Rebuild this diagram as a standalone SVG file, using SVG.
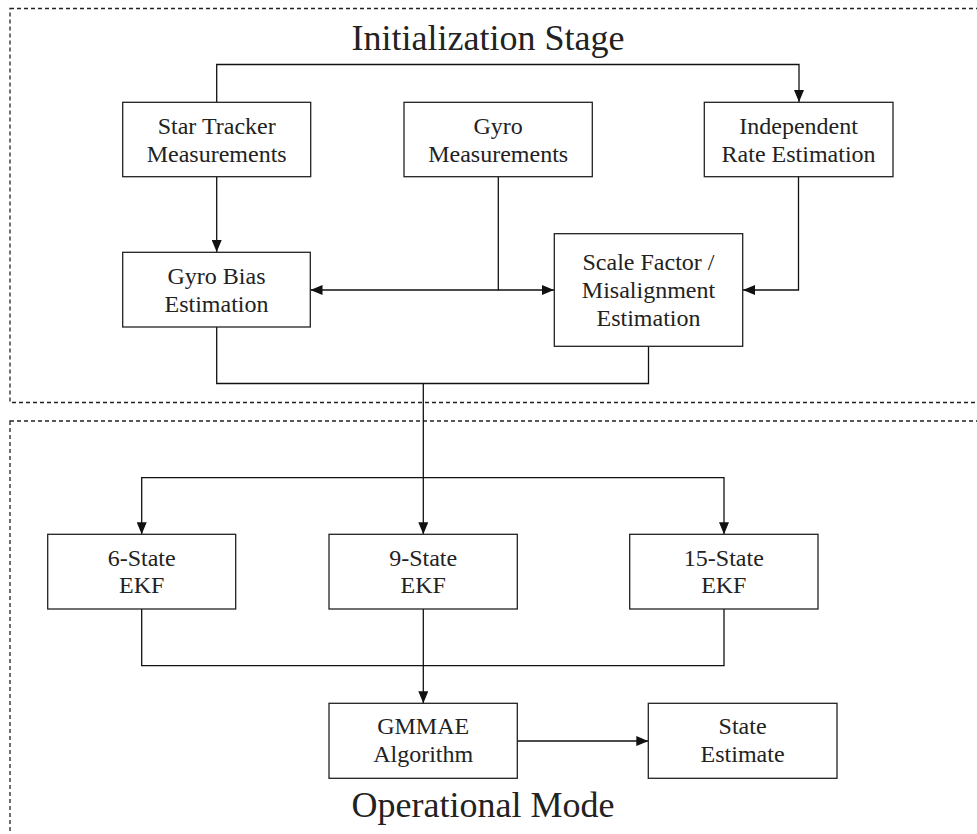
<svg xmlns="http://www.w3.org/2000/svg" width="977" height="834" viewBox="0 0 977 834">
<defs>
<style>
.frame{fill:none;stroke:#222;stroke-width:1.3;stroke-dasharray:4,3}
.box{fill:#fff;stroke:#222;stroke-width:1.3}
.lbl{font-family:"Liberation Serif","Times New Roman",serif;font-size:24px;fill:#222;text-anchor:middle}
.title{font-family:"Liberation Serif","Times New Roman",serif;font-size:36px;fill:#222;text-anchor:middle}
.conn{fill:none;stroke:#111;stroke-width:1.3}
</style>
<marker id="arr" viewBox="0 0 12 10" refX="12" refY="5" markerWidth="12" markerHeight="10" markerUnits="userSpaceOnUse" orient="auto">
<path d="M0,0 L12,5 L0,10 Z" fill="#111"/>
</marker>
</defs>
<rect width="977" height="834" fill="#fff"/>
<rect class="frame" x="10" y="8.5" width="975" height="394"/>
<rect class="frame" x="10" y="421" width="975" height="420"/>
<text class="title" x="488" y="50">Initialization Stage</text>
<text class="title" x="483" y="817">Operational Mode</text>
<g id="connectors">
<path class="conn" d="M216.7,102 V64.5 H799 V102" marker-end="url(#arr)"/>
<path class="conn" d="M216.7,177 V252" marker-end="url(#arr)"/>
<path class="conn" d="M498.3,177 V290 H310.5" marker-end="url(#arr)"/>
<path class="conn" d="M498.3,290 H554" marker-end="url(#arr)"/>
<path class="conn" d="M798.5,177 V290 H743" marker-end="url(#arr)"/>
<path class="conn" d="M216.7,327 V383.5 H648.5 V346.5"/>
<path class="conn" d="M423.3,383.5 V534.3" marker-end="url(#arr)"/>
<path class="conn" d="M423.3,477.7 H141.7 V534.3" marker-end="url(#arr)"/>
<path class="conn" d="M423.3,477.7 H724 V534.3" marker-end="url(#arr)"/>
<path class="conn" d="M141.7,609 V665.7 H724 V609"/>
<path class="conn" d="M423.3,609 V703.3" marker-end="url(#arr)"/>
<path class="conn" d="M517.3,741 H648.3" marker-end="url(#arr)"/>
</g>
<g id="star-tracker">
<rect class="box" x="122.7" y="102.3" width="188" height="74.4"/>
<text class="lbl" x="216.7" y="133.5">Star Tracker</text>
<text class="lbl" x="216.7" y="161.5">Measurements</text>
</g>
<g id="gyro-measurements">
<rect class="box" x="404" y="102.3" width="188.3" height="74.4"/>
<text class="lbl" x="498.2" y="133.5">Gyro</text>
<text class="lbl" x="498.2" y="161.5">Measurements</text>
</g>
<g id="independent-rate">
<rect class="box" x="704.3" y="102.3" width="188.7" height="74.4"/>
<text class="lbl" x="798.6" y="133.5">Independent</text>
<text class="lbl" x="798.6" y="161.5">Rate Estimation</text>
</g>
<g id="gyro-bias">
<rect class="box" x="122.7" y="252.3" width="187.6" height="74.7"/>
<text class="lbl" x="216.5" y="283.5">Gyro Bias</text>
<text class="lbl" x="216.5" y="311.5">Estimation</text>
</g>
<g id="scale-factor">
<rect class="box" x="554.3" y="233.7" width="188.4" height="112.6"/>
<text class="lbl" x="648.5" y="270">Scale Factor /</text>
<text class="lbl" x="648.5" y="298">Misalignment</text>
<text class="lbl" x="648.5" y="326">Estimation</text>
</g>
<g id="ekf6">
<rect class="box" x="47.7" y="534.3" width="188" height="74.7"/>
<text class="lbl" x="141.7" y="565.5">6-State</text>
<text class="lbl" x="141.7" y="593">EKF</text>
</g>
<g id="ekf9">
<rect class="box" x="329" y="534.3" width="188.3" height="74.7"/>
<text class="lbl" x="423.2" y="565.5">9-State</text>
<text class="lbl" x="423.2" y="593">EKF</text>
</g>
<g id="ekf15">
<rect class="box" x="629.7" y="534.3" width="188.3" height="74.7"/>
<text class="lbl" x="723.8" y="565.5">15-State</text>
<text class="lbl" x="723.8" y="593">EKF</text>
</g>
<g id="gmmae">
<rect class="box" x="329" y="703.3" width="188.3" height="75"/>
<text class="lbl" x="423.2" y="733.5">GMMAE</text>
<text class="lbl" x="423.2" y="761.5">Algorithm</text>
</g>
<g id="state-estimate">
<rect class="box" x="648.3" y="703.3" width="188.7" height="75"/>
<text class="lbl" x="742.6" y="733.5">State</text>
<text class="lbl" x="742.6" y="761.5">Estimate</text>
</g>
</svg>
